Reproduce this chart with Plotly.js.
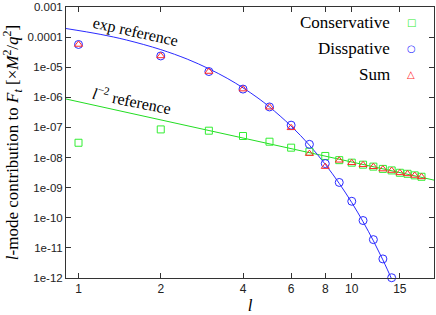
<!DOCTYPE html>
<html>
<head>
<meta charset="utf-8">
<script src="https://cdn.plot.ly/plotly-3.0.1.min.js"></script>
<style>html,body{margin:0;padding:0;background:#fff;}#chart{width:436px;height:315px;}</style>
</head>
<body>
<div id="chart"></div>
<script>
// ---- data ----
const lCons = [1,2,3,4,5,6,7,8,9,10,11,12,13,14,15,16,17,18];
const conservative = [3.1e-8, 8.6e-8, 7.8e-8, 5.2e-8, 3.36e-8, 2.13e-8, 1.57e-8, 1.13e-8, 8.2e-9, 6.76e-9, 5.8e-9, 5.0e-9, 4.2e-9, 3.74e-9, 3.12e-9, 2.89e-9, 2.56e-9, 2.3e-9];

const lDiss = [1,2,3,4,5,6,7,8,9,10,11,12,13,14];
const dissipative = [5.7e-5, 2.37e-5, 7.2e-6, 1.88e-6, 4.8e-7, 1.19e-7, 2.75e-8, 6.3e-9, 1.49e-9, 3.53e-10, 8.1e-11, 1.88e-11, 4.3e-12, 1.02e-12];

const lSum = [1,2,3,4,5,6,7,8,9,10,11,12,13,14,15,16,17,18];
const sumVals = [5.7e-5, 2.37e-5, 7.2e-6, 1.88e-6, 4.7e-7, 9.7e-8, 1.35e-8, 5.0e-9, 8.1e-9, 6.7e-9, 5.75e-9, 4.95e-9, 4.15e-9, 3.7e-9, 3.1e-9, 2.87e-9, 2.54e-9, 2.28e-9];

// reference curves
const lExpRef = [0.9, 1.2, 1.5, 2, 2.5, 3, 3.5, 4, 4.5, 5, 6, 7, 8, 9, 10, 11, 12, 13, 14, 14.5];
const expRef  = [1.93e-4, 1.24e-4, 8.0e-5, 3.85e-5, 1.86e-5, 8.9e-6, 4.3e-6, 2.07e-6, 1.0e-6, 4.8e-7, 1.11e-7, 2.58e-8, 5.97e-9, 1.38e-9, 3.2e-10, 7.4e-11, 1.72e-11, 3.99e-12, 9.2e-13, 4.5e-13];

const lPowRef = [0.9, 20];
const powRef  = [8.8e-7, 1.78e-9];

const xTicks = [1, 2, 4, 6, 8, 10, 15];
const xTickText = ['1', '2', '4', '6', '8', '10', '15'];
const yTicks = [1e-12, 1e-11, 1e-10, 1e-9, 1e-8, 1e-7, 1e-6, 1e-5, 1e-4, 1e-3];
const yTickText = ['1e-12', '1e-11', '1e-10', '1e-09', '1e-08', '1e-07', '1e-06', '1e-05', '0.0001', '0.001'];

const legendNames = ['Conservative', 'Disspative', 'Sum'];
const legendGlyphs = ['\u25A1', '\u25CB', '\u25B3'];

const cGreen = '#22dd22', cBlue = '#2a2aff', cRed = '#ff2a2a';
const serif = "'Liberation Serif', 'DejaVu Serif', serif";
const sans = "'Liberation Sans', Arial, sans-serif";

const traces = [
  {x: lPowRef, y: powRef, mode: 'lines', line: {color: cGreen, width: 1}, hoverinfo: 'skip'},
  {x: lExpRef, y: expRef, mode: 'lines', line: {color: cBlue, width: 1, shape: 'spline'}, hoverinfo: 'skip'},
  {x: lCons, y: conservative, mode: 'markers', cliponaxis: false,
   marker: {symbol: 'square-open', size: 7, color: '#33ee33', line: {width: 1}}},
  {x: lDiss, y: dissipative, mode: 'markers', cliponaxis: false,
   marker: {symbol: 'circle-open', size: 8, color: cBlue, line: {width: 1}}},
  {x: lSum, y: sumVals, mode: 'markers', cliponaxis: false,
   marker: {symbol: 'triangle-up-open', size: 7, color: cRed, line: {width: 1}}}
];

const L = 66, R = 2, T = 7, B = 37, W = 436, H = 315;
const pw = W - L - R, ph = H - T - B;
const px = v => (v - L) / pw;
const py = v => (H - B - v) / ph;

const annotations = [
  {xref: 'paper', yref: 'paper', x: px(135), y: py(32.5), xanchor: 'center', yanchor: 'middle',
   text: 'exp reference', showarrow: false,
   textangle: 12.6, font: {family: serif, size: 16, color: '#000'}},
  {xref: 'paper', yref: 'paper', x: px(132), y: py(100), xanchor: 'center', yanchor: 'middle',
   text: '<i>l</i><sup>\u22122</sup> reference', showarrow: false,
   textangle: 11.5, font: {family: serif, size: 16, color: '#000'}}
];
const rowsY = [23, 48.5, 74];
const glyphColors = ['#33ee33', cBlue, cRed];
for (let i = 0; i < legendNames.length; i++) {
  annotations.push({xref: 'paper', yref: 'paper', x: px(392), y: py(rowsY[i]), xanchor: 'right', yanchor: 'middle',
    text: legendNames[i], showarrow: false, font: {family: serif, size: 17, color: '#000'}});
  annotations.push({xref: 'paper', yref: 'paper', x: px(411), y: py(rowsY[i]), xanchor: 'center', yanchor: 'middle',
    text: legendGlyphs[i], showarrow: false, font: {family: "'DejaVu Sans'", size: 10, color: glyphColors[i]}});
}

const layout = {
  width: W, height: H,
  margin: {l: L, r: R, t: T, b: B, pad: 0},
  paper_bgcolor: '#fff', plot_bgcolor: '#fff',
  showlegend: false,
  xaxis: {
    type: 'log', range: [Math.log10(0.9), Math.log10(20)],
    tickvals: xTicks, ticktext: xTickText,
    ticks: 'inside', ticklen: 5, tickcolor: '#333', mirror: 'ticks',
    showline: true, linecolor: '#333', linewidth: 1,
    showgrid: false, zeroline: false,
    tickfont: {family: sans, size: 12, color: '#222'},
    title: {text: '<i>l</i>', font: {family: serif, size: 17, color: '#000'}, standoff: 6}
  },
  yaxis: {
    type: 'log', range: [-12.0005, -2.9995],
    tickvals: yTicks, ticktext: yTickText, ticklabeloverflow: 'allow',
    ticks: 'inside', ticklen: 5, tickcolor: '#333', mirror: 'ticks',
    showline: true, linecolor: '#333', linewidth: 1,
    showgrid: false, zeroline: false,
    tickfont: {family: sans, size: 11.5, color: '#222'},
    title: {text: '<i>l</i>-mode contribution to <i>F<sub>t</sub></i> [\u00D7<i>M</i><sup>2</sup>/<i>q</i><sup>2</sup>]',
            font: {family: serif, size: 17, color: '#000'}, standoff: 5}
  },
  annotations: annotations
};

Plotly.newPlot('chart', traces, layout, {staticPlot: true, displayModeBar: false});
</script>
</body>
</html>
